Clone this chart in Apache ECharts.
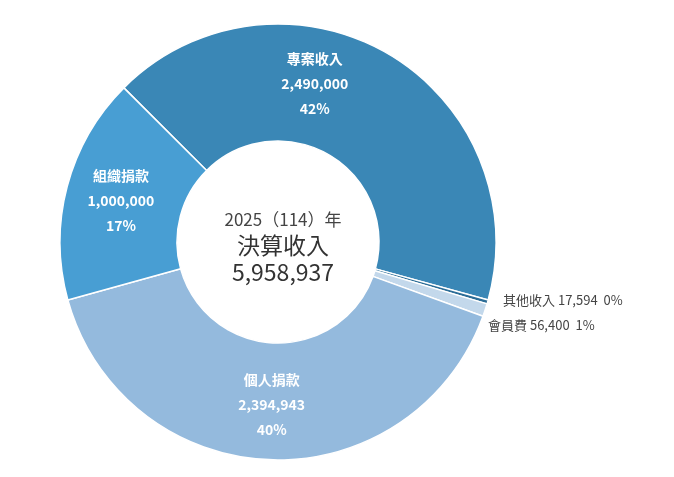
<!DOCTYPE html><html><head><meta charset="utf-8"><script src="https://cdn.jsdelivr.net/npm/echarts@6/dist/echarts.min.js"></script></head><body style="margin:0;background:#fff"><div id="c" style="width:674px;height:477px"></div><script>
const names=['專案收入','其他收入','會員費','個人捐款','組織捐款'];
const values=[2490000,17594,56400,2394943,1000000];
const percents=['42%','0%','1%','40%','17%'];
const colors=['#3a87b6','#2c6d97','#c3d8eb','#94badd','#489ed3'];
const total=values.reduce((a,b)=>a+b,0);
const fmt=v=>v.toLocaleString('en-US');
const small={1:{x:503,y:300},2:{x:488,y:325}};
const ch=echarts.init(document.getElementById('c'));
ch.setOption({
 animation:false,
 title:{text:'2025（114）年\n{b|決算收入}\n{b|'+fmt(total)+'}',left:278,top:242,textAlign:'center',textVerticalAlign:'middle',
  textStyle:{fontSize:17,color:'#444',fontFamily:'Noto Sans CJK TC',fontWeight:'normal',lineHeight:24,rich:{b:{fontSize:23,color:'#333',lineHeight:27,fontFamily:'Noto Sans CJK TC'}}}},
 series:[{type:'pie',center:[278,242],radius:[101,218],startAngle:135,clockwise:true,
  itemStyle:{borderColor:'#fff',borderWidth:1.5},
  labelLine:{show:false},
  data:names.map((n,i)=>({name:n,value:values[i],itemStyle:{color:colors[i]},
   label:small[i]?{position:'outside',color:'#444',fontSize:13,fontWeight:'normal',formatter:n+' '+fmt(values[i])+'  '+percents[i]}:
   {position:'inside',color:'#fff',fontSize:14,fontWeight:'bold',lineHeight:25,formatter:n+'\n'+fmt(values[i])+'\n'+percents[i]}})),
  label:{fontFamily:'Noto Sans CJK TC'},
  labelLayout:p=>{const s=small[p.dataIndex];if(s)return{x:s.x,y:s.y,align:'left',verticalAlign:'middle'};if(p.dataIndex===0)return{dx:-45,dy:-18};return{};}
 }]
});
</script></body></html>
